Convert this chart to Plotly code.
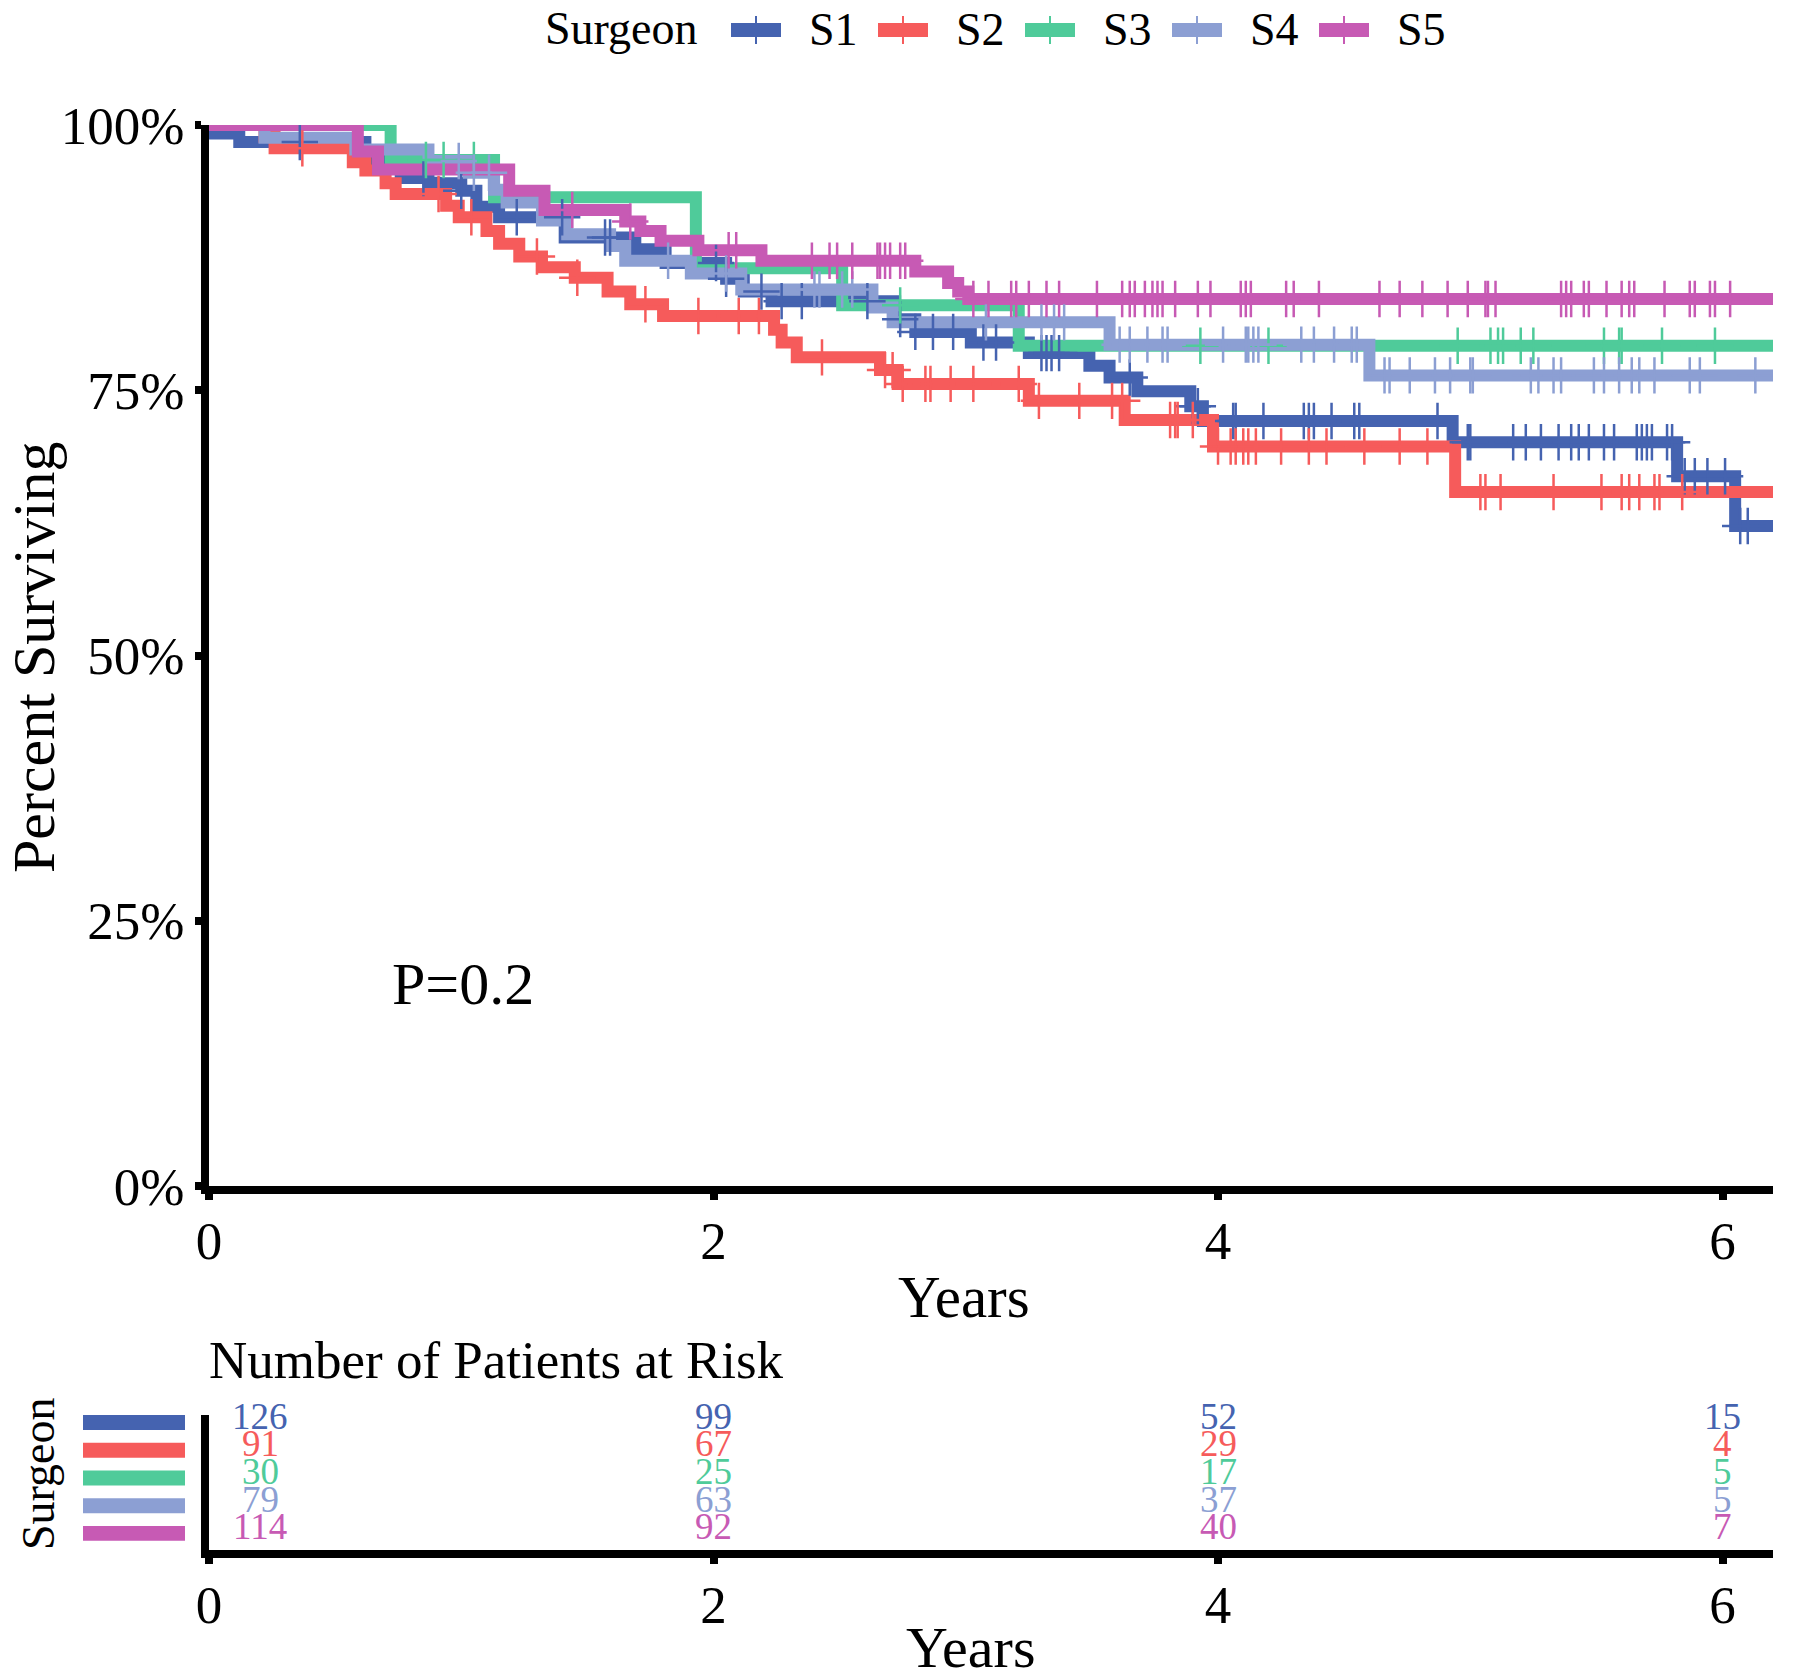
import numpy as np
import plotly.graph_objects as go

W, H = 1800, 1679
FONT = "Liberation Serif, Times New Roman, serif"

surgeons = ["S1", "S2", "S3", "S4", "S5"]
colors = ["#4563B0", "#F65B5B", "#4FCB9A", "#8C9FD3", "#C75AB4"]

t_end = 6.2

# Kaplan-Meier step curves: event times and survival after each step
s1_t = [0, 0.02, 0.12, 0.62, 0.76, 0.87, 1.00, 1.06, 1.15, 1.41, 1.69, 1.81, 2.05, 2.12, 2.23,
        2.72, 2.80, 3.02, 3.25, 3.49, 3.57, 3.68, 3.89, 3.94, 4.93, 5.82, 6.05]
s1_s = [1.0, 0.992, 0.984, 0.966, 0.950, 0.945, 0.938, 0.923, 0.913, 0.894, 0.883, 0.870, 0.855, 0.843, 0.834,
        0.817, 0.805, 0.795, 0.785, 0.773, 0.762, 0.749, 0.735, 0.721, 0.701, 0.669, 0.622]

s2_t = [0, 0.22, 0.26, 0.57, 0.62, 0.70, 0.74, 0.94, 0.99, 1.10, 1.15, 1.23, 1.32, 1.45, 1.58, 1.67,
        1.80, 2.24, 2.27, 2.33, 2.66, 2.73, 3.25, 3.63, 3.98, 4.94]
s2_s = [1.0, 0.989, 0.978, 0.965, 0.957, 0.945, 0.935, 0.924, 0.913, 0.900, 0.888, 0.876, 0.866, 0.856, 0.843, 0.831,
        0.820, 0.807, 0.795, 0.781, 0.769, 0.756, 0.740, 0.722, 0.697, 0.654]

s3_t = [0, 0.72, 1.13, 1.93, 2.51, 3.21]
s3_s = [1.0, 0.967, 0.932, 0.865, 0.830, 0.792]

s4_t = [0, 0.22, 0.58, 0.87, 1.03, 1.13, 1.18, 1.32, 1.42, 1.59, 1.65, 1.91, 2.11, 2.63, 2.71, 3.57, 4.60]
s4_s = [1.0, 0.988, 0.977, 0.966, 0.955, 0.939, 0.927, 0.910, 0.897, 0.886, 0.872, 0.860, 0.845, 0.828,
        0.814, 0.793, 0.764]

s5_t = [0, 0.59, 0.67, 1.19, 1.33, 1.65, 1.71, 1.79, 1.94, 2.19, 2.80, 2.93, 2.97, 3.01]
s5_s = [1.0, 0.975, 0.958, 0.938, 0.920, 0.909, 0.900, 0.891, 0.882, 0.872, 0.862, 0.851, 0.843, 0.836]

# censoring times
c1 = [0.36, 0.85, 1.00, 1.22, 1.40, 1.57, 1.59, 2.01, 2.05, 2.19, 2.27, 2.35, 2.61, 2.74, 2.80, 2.87, 2.95,
      3.07, 3.12, 3.30, 3.32, 3.34, 3.37, 3.65, 3.90, 3.92, 4.06, 4.07, 4.18, 4.34, 4.36, 4.38, 4.45, 4.54,
      4.56, 4.87, 4.99, 5.00, 5.17, 5.22, 5.28, 5.35, 5.40, 5.43, 5.47, 5.53, 5.57, 5.66, 5.68, 5.70, 5.72,
      5.78, 5.80, 5.85, 5.89, 5.94, 6.01, 6.07, 6.10]
c2 = [0.37, 0.91, 1.04, 1.30, 1.46, 1.73, 1.94, 2.10, 2.18, 2.43, 2.68, 2.71, 2.75, 2.84, 2.86, 2.94, 3.03,
      3.21, 3.29, 3.45, 3.58, 3.62, 3.81, 3.83, 3.84, 3.90, 4.00, 4.05, 4.07, 4.10, 4.12, 4.15, 4.25, 4.36,
      4.43, 4.58, 4.72, 4.83, 5.04, 5.06, 5.12, 5.33, 5.52, 5.60, 5.63, 5.67, 5.73, 5.75, 5.84]
c3 = [0.86, 0.93, 1.05, 2.74, 3.93, 4.20, 4.95, 5.08, 5.11, 5.13, 5.20, 5.25, 5.53, 5.59, 5.60, 5.76, 5.97]
c4 = [0.99, 1.05, 1.11, 1.82, 2.05, 2.40, 2.42, 2.51, 2.55, 3.08, 3.30, 3.35, 3.39, 3.61, 3.65, 3.72, 3.78,
      3.80, 4.02, 4.11, 4.12, 4.14, 4.16, 4.33, 4.38, 4.46, 4.53, 4.55, 4.66, 4.68, 4.76, 4.86, 4.92, 5.00,
      5.01, 5.24, 5.27, 5.33, 5.36, 5.49, 5.53, 5.59, 5.64, 5.67, 5.73, 5.87, 5.91, 6.13]
c5 = [1.44, 1.67, 2.06, 2.09, 2.39, 2.46, 2.49, 2.55, 2.65, 2.66, 2.68, 2.70, 2.74, 2.76, 3.03, 3.09, 3.18,
      3.20, 3.25, 3.32, 3.37, 3.52, 3.62, 3.65, 3.67, 3.71, 3.74, 3.76, 3.78, 3.83, 3.92, 3.97, 4.09, 4.11,
      4.13, 4.27, 4.30, 4.40, 4.64, 4.72, 4.81, 4.91, 4.99, 5.06, 5.07, 5.10, 5.36, 5.38, 5.40, 5.45, 5.47,
      5.54, 5.60, 5.63, 5.65, 5.77, 5.87, 5.89, 5.95, 5.97, 6.03]

# number at risk
risk_times = [0, 2, 4, 6]
risk_s1 = [126, 99, 52, 15]
risk_s2 = [91, 67, 29, 4]
risk_s3 = [30, 25, 17, 5]
risk_s4 = [79, 63, 37, 5]
risk_s5 = [114, 92, 40, 7]

p_value_text = "P=0.2"

curves = [(s1_t, s1_s, c1), (s2_t, s2_s, c2), (s3_t, s3_s, c3), (s4_t, s4_s, c4), (s5_t, s5_s, c5)]
risks = [risk_s1, risk_s2, risk_s3, risk_s4, risk_s5]


def px(x):
    return x / W


def py(y):
    return 1 - y / H


fig = go.Figure()

for name, col, (ts, ss, _) in zip(surgeons, colors, curves):
    fig.add_trace(go.Scatter(
        x=list(ts) + [t_end], y=list(ss) + [ss[-1]], mode="lines", name=name,
        line=dict(color=col, width=12, shape="hv"), showlegend=False,
        xaxis="x", yaxis="y", hoverinfo="skip"))

for name, col, (ts, ss, cens) in zip(surgeons, colors, curves):
    idx = np.searchsorted(np.array(ts), np.array(cens), side="right") - 1
    cy = [ss[i] for i in idx]
    fig.add_trace(go.Scatter(
        x=cens, y=cy, mode="markers", name=name + " censored", showlegend=False,
        marker=dict(symbol="cross-thin", size=26, color=col, line=dict(width=2.5, color=col)),
        xaxis="x", yaxis="y", hoverinfo="skip"))

annotations = []
# risk table numbers
n = len(surgeons)
for k, (col, vals) in enumerate(zip(colors, risks)):
    row = n - k
    for t, v in zip(risk_times, vals):
        annotations.append(dict(
            x=t, y=row, xref="x2", yref="y2", text=str(v), showarrow=False,
            xanchor="center", yanchor="middle", xshift=51 if t == 0 else 0,
            font=dict(size=37, color=col, family=FONT)))

shapes = []
for k, col in enumerate(colors):
    row = n - k
    shapes.append(dict(type="rect", xref="paper", yref="y2", x0=px(83), x1=px(185),
                       y0=row - 0.5, y1=row + 0.04, fillcolor=col, line=dict(width=0)))

# legend (drawn manually to match ggplot key layout)
leg_sym_x = [731, 878, 1025, 1172, 1319]
for name, col, x0 in zip(surgeons, colors, leg_sym_x):
    shapes.append(dict(type="rect", xref="paper", yref="paper", x0=px(x0), x1=px(x0 + 50),
                       y0=py(37), y1=py(23), fillcolor=col, line=dict(width=0)))
    shapes.append(dict(type="line", xref="paper", yref="paper", x0=px(x0 + 25), x1=px(x0 + 25),
                       y0=py(44), y1=py(16), line=dict(color=col, width=2)))
    annotations.append(dict(x=px(x0 + 76), y=py(30), xref="paper", yref="paper", text=name,
                            showarrow=False, xanchor="left", yanchor="middle",
                            font=dict(size=46, color="black", family=FONT)))
annotations.append(dict(x=px(543), y=py(29), xref="paper", yref="paper", text="Surgeon",
                        showarrow=False, xanchor="left", yanchor="middle",
                        font=dict(size=46, color="black", family=FONT)))

# titles and texts
annotations += [
    dict(x=px(34), y=py(657), xref="paper", yref="paper", text="Percent Surviving", textangle=-90,
         showarrow=False, xanchor="center", yanchor="middle", font=dict(size=60, family=FONT, color="black")),
    dict(x=px(964), y=py(1297), xref="paper", yref="paper", text="Years",
         showarrow=False, xanchor="center", yanchor="middle", font=dict(size=59, family=FONT, color="black")),
    dict(x=px(390), y=py(984), xref="paper", yref="paper", text=p_value_text,
         showarrow=False, xanchor="left", yanchor="middle", font=dict(size=60, family=FONT, color="black")),
    dict(x=px(207), y=py(1360), xref="paper", yref="paper", text="Number of Patients at Risk",
         showarrow=False, xanchor="left", yanchor="middle", font=dict(size=53, family=FONT, color="black")),
    dict(x=px(38), y=py(1474), xref="paper", yref="paper", text="Surgeon", textangle=-90,
         showarrow=False, xanchor="center", yanchor="middle", font=dict(size=46, family=FONT, color="black")),
    dict(x=px(970), y=py(1647), xref="paper", yref="paper", text="Years",
         showarrow=False, xanchor="center", yanchor="middle", font=dict(size=58, family=FONT, color="black")),
]

axis_common = dict(showline=True, linewidth=8, linecolor="black", showgrid=False, zeroline=False,
                   ticks="outside", ticklen=6, tickwidth=8, tickcolor="black", automargin=False,
                   tickfont=dict(size=53, family=FONT, color="black"))

fig.update_layout(
    width=W, height=H, autosize=False,
    margin=dict(l=0, r=0, t=0, b=0, pad=0, autoexpand=False),
    paper_bgcolor="white", plot_bgcolor="white",
    font=dict(family=FONT, color="black"),
    showlegend=False,
    xaxis=dict(domain=[px(209), px(1773)], range=[0, t_end], anchor="y",
               tickvals=[0, 2, 4, 6], ticklabelstandoff=-5, **axis_common),
    yaxis=dict(domain=[py(1186), py(125)], range=[0, 1], anchor="x",
               tickvals=[0, 0.25, 0.5, 0.75, 1.0], ticktext=["0%", "25%", "50%", "75%", "100%"],
               **axis_common),
    xaxis2=dict(domain=[px(209), px(1773)], range=[0, t_end], anchor="y2",
                tickvals=[0, 2, 4, 6], ticklabelstandoff=-5, **axis_common),
    yaxis2=dict(domain=[py(1550), py(1415)], range=[0.17, 5.04], anchor="x2",
                showline=True, linewidth=8, linecolor="black", showgrid=False, zeroline=False,
                ticks="", showticklabels=False, automargin=False),
    annotations=annotations,
    shapes=shapes,
)

fig.write_html("out.html", config={"displayModeBar": False},
               post_script="document.body.style.margin='0px';")
